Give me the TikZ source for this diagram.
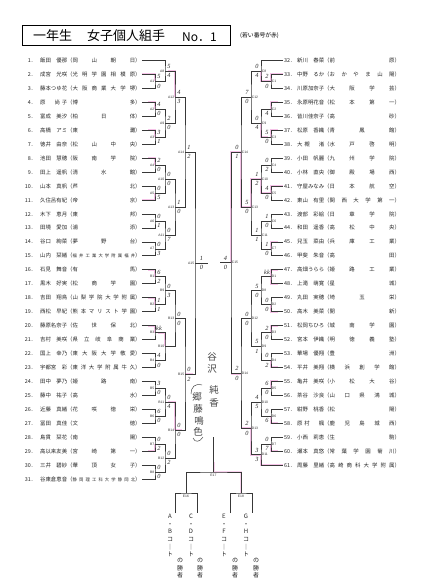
\documentclass[tikz,border=0pt]{standalone}
\usepackage{fontspec}
\usepackage{graphicx}
\newfontfamily\jp{Noto Sans CJK JP}
\newfontfamily\lab{Liberation Sans}
\newfontfamily\hw{Liberation Serif}
\definecolor{ln}{gray}{0.22}
\definecolor{pk}{RGB}{232,110,200}
\usetikzlibrary{calc}
\def\spr#1{\sprB#1\relax}
\def\sprB#1{#1\sprC}
\def\sprC#1{\ifx#1\relax\else\hfil#1\expandafter\sprC\fi}
\newcommand\entL[4]{\makebox[12pt][r]{#1．}\hspace{4pt}\makebox[27pt][s]{\spr{#2}}（\makebox[62.6pt][s]{#4\spr{#3}}）}
\newcommand\entR[4]{\makebox[12pt][l]{#1．}\hspace{1pt}\makebox[27pt][s]{\spr{#2}}（\makebox[65pt][s]{#4\spr{#3}}）}
\newcommand\LP[3]{\node[ent] (p#1) at (23,{Yk(#1-1)}) {\entL{#1}{#2}{#3}{}};}
\newcommand\LPs[3]{\node[ent] (p#1) at (23,{Yk(#1-1)}) {\entL{#1}{#2}{#3}{\fontsize{4.3}{5}\selectfont}};}
\newcommand\RP[3]{\node[ent] (p#1) at (283,{Yk(#1-32)}) {\entR{#1}{#2}{#3}{}};}
\newcommand\RPs[3]{\node[ent] (p#1) at (283,{Yk(#1-32)}) {\entR{#1}{#2}{#3}{\fontsize{4.3}{5}\selectfont}};}
\newcommand\LM[5]{%
  \coordinate (m#1) at (#2,{Yk(#3)});
  \node[lbl,anchor=east] (l#1) at ([xshift=-0.6pt]m#1) {#1};
  \node[sc] (s#1u) at ([xshift=4pt,yshift=4.6pt]m#1) {#4};
  \node[sc] (s#1l) at ([xshift=4pt,yshift=-4.6pt]m#1) {#5};}
\newcommand\RM[5]{%
  \coordinate (m#1) at (#2,{Yk(#3)});
  \node[lbl,anchor=west] (l#1) at ([xshift=0.6pt]m#1) {#1};
  \node[sc] (s#1u) at ([xshift=-4pt,yshift=4.6pt]m#1) {#4};
  \node[sc] (s#1l) at ([xshift=-4pt,yshift=-4.6pt]m#1) {#5};}
\newcommand\BR[3]{\draw[br] (#1) -| (#2) |- (#3);}
\newcommand\HLL[2]{\draw[hl] ($(#2 |- #1)+(-7,0)$) -| (#2);}
\newcommand\HLR[2]{\draw[hl] ($(#2 |- #1)+(7,0)$) -| (#2);}
\begin{document}
\begin{tikzpicture}[x=1pt,y=-1pt,
  declare function={Yk(\k)=60.5+\k*13.95;},
  ent/.style={anchor=west,inner xsep=1pt,inner ysep=0pt,font=\jp\fontsize{5.4}{6}\selectfont,text=black!85},
  lbl/.style={inner sep=0pt,font=\lab\fontsize{3.4}{4}\selectfont,text=black!80},
  sc/.style={inner sep=0pt,font=\hw\itshape\fontsize{6.3}{7}\selectfont,text=black!85},
  br/.style={draw=ln,line width=0.65pt},
  hl/.style={draw=pk,line width=2pt,opacity=0.42},
  vt/.style={inner sep=0pt,align=center,anchor=north,font=\jp\fontsize{6}{7.6}\selectfont,text=black!85},
  hand/.style={inner sep=0pt,font=\jp\fontsize{9.5}{11}\selectfont,text=black!72},
  handline/.style={draw=black!72,line width=0.5pt}]
\useasboundingbox (0,0) rectangle (428,585);
\fill[white] (0,0) rectangle (428,585);
% title
\node[draw=black,line width=1pt,minimum width=208pt,minimum height=20pt,inner sep=0pt] (title) at (126,36) {};
\node[anchor=west,inner sep=0pt,font=\jp\fontsize{13}{14}\selectfont] (t1) at (33,36) {一年生};
\node[anchor=west,inner sep=0pt,font=\jp\fontsize{13}{14}\selectfont] (t2) at (87,36) {女子個人組手};
\node[anchor=west,inner sep=0pt,font=\jp\fontsize{12}{14}\selectfont] (t3) at (182,37) {No．1};
\node[anchor=west,inner sep=0pt,font=\jp\fontsize{5.8}{6}\selectfont] (note) at (240,36) {(若い番号が赤)};
% left list
\LP{1}{飯田　優那}{岡山朝日}
\LP{2}{成宮　光咲}{光明学園相模原}
\LP{3}{藤本つゆ花}{大阪商業大学堺}
\LP{4}{原　尚子}{博多}
\LP{5}{富成　美汐}{柏日体}
\LP{6}{高橋　アミ}{東灘}
\LP{7}{徳井　由奈}{松山中央}
\LP{8}{池田　慧穂}{阪南学院}
\LP{9}{田上　遥帆}{清水館}
\LP{10}{山本　真帆}{芦北}
\LP{11}{久住呂有紀}{帝京}
\LP{12}{木下　恵月}{東邦}
\LP{13}{田境　愛加}{浦添}
\LP{14}{谷口　絢菜}{夢野台}
\LPs{15}{山内　栞緒}{福井工業大学附属福井}
\LP{16}{石見　舞音}{有馬}
\LP{17}{黒木　好実}{松商学園}
\LP{18}{吉田　翔鳥}{山梨学院大学附属}
\LP{19}{西松　早紀}{熊本マリスト学園}
\LP{20}{藤原名奈子}{佐世保北}
\LP{21}{吉村　美咲}{県立岐阜商業}
\LP{22}{国上　幸乃}{東大阪大学敬愛}
\LP{23}{宇都宮　彩}{東洋大学附属牛久}
\LP{24}{田中　夢乃}{姫路南}
\LP{25}{藤中　祐子}{高水}
\LP{26}{近藤　真緒}{花咲徳栄}
\LP{27}{冨田　真佳}{文徳}
\LP{28}{島貫　栞花}{南陽}
\LP{29}{高以来友美}{宮崎第一}
\LP{30}{三井　碧紗}{華頂女子}
\LPs{31}{谷東倉恵音}{静岡理工科大学静岡北}
% right list
\RP{32}{新川　春菜}{前原}
\RP{33}{中野　るか}{おかやま山陽}
\RP{34}{川原加奈子}{大阪学芸}
\RP{35}{永原明花音}{松本第一}
\RP{36}{皆川佳奈子}{高砂}
\RP{37}{松原　香織}{青鳳館}
\RP{38}{大槻　渚}{水戸啓明}
\RP{39}{小田　帆麗}{九州学院}
\RP{40}{小林　直央}{御殿場西}
\RP{41}{守屋みなみ}{日本航空}
\RP{42}{東山　有里}{関西大学第一}
\RP{43}{渡部　彩絵}{日章学院}
\RP{44}{和田　遥香}{高松中央}
\RP{45}{兒玉　菜由}{兵庫工業}
\RP{46}{甲斐　朱音}{高田}
\RP{47}{高畑うらら}{姫路工業}
\RP{48}{上滝　萌寛}{星城}
\RP{49}{丸田　実穂}{埼玉栄}
\RP{50}{高木　美菜}{開新}
\RP{51}{松岡ちひろ}{城南学園}
\RP{52}{宮本　伊織}{明徳義塾}
\RP{53}{華場　優翔}{豊洲}
\RP{54}{平井　美翔}{横浜創学館}
\RP{55}{亀井　美咲}{小松大谷}
\RP{56}{茶谷　沙良}{山口県鴻城}
\RP{57}{紺野　桃香}{松陽}
\RP{58}{原村　楓}{鹿児島城西}
\RP{59}{小西　莉恵}{生駒}
\RP{60}{瀬本　真悠}{常葉学園菊川}
\RP{61}{周藤　里緒}{高崎商科大学附属}
% left matches
\LM{A1}{155}{1.5}{5}{0}
\LM{A2}{155}{3.5}{4}{0}
\LM{A3}{155}{5.5}{3}{1}
\LM{A4}{155}{7.5}{2}{0}
\LM{A5}{155}{9.5}{0}{5}
\LM{A6}{155}{11.5}{0}{1}
\LM{A7}{155}{13.5}{0}{3}
\LM{A8}{165}{0.75}{5}{4}
\LM{A9}{165}{4.5}{2}{0}
\LM{A10}{165}{8.5}{0}{0}
\LM{A11}{165}{12.5}{0}{7}
\LM{A12}{175}{2.625}{4}{3}
\LM{A13}{175}{10.5}{1}{0}
\LM{A14}{185}{6.5625}{1}{2}
\LM{B1}{155}{15.5}{6}{2}
\LM{B2}{155}{17.5}{1}{1}
\LM{B3}{155}{19.5}{kk}{}
\LM{B4}{155}{21.5}{4}{0}
\LM{B5}{155}{23.5}{3}{0}
\LM{B6}{155}{25.5}{6}{0}
\LM{B7}{155}{27.5}{0}{2}
\LM{B8}{155}{29.5}{0}{0}
\LM{B9}{165}{16.5}{0}{3}
\LM{B10}{165}{20.5}{}{}
\LM{B11}{165}{24.5}{0}{4}
\LM{B12}{165}{28.5}{0}{2}
\LM{B13}{175}{18.5}{0}{0}
\LM{B14}{175}{26.5}{0}{0}
\LM{B15}{185}{22.5}{0}{2}
\coordinate (mA15) at (195,{Yk(14.53125)});
\coordinate (oA15) at (208,{Yk(14.53125)});
\node[lbl,anchor=east] (lA15) at ([xshift=-0.6pt]mA15) {A15};
\node[sc] (sA15u) at ([xshift=6.5pt,yshift=4.6pt]mA15) {1};
\node[sc] (sA15l) at ([xshift=6.5pt,yshift=-4.6pt]mA15) {0};
% right matches
\RM{C1}{271}{1.5}{2}{0}
\RM{C2}{271}{3.5}{}{4}
\RM{C3}{271}{5.5}{5}{0}
\RM{C4}{271}{7.5}{0}{2}
\RM{C5}{271}{9.5}{4}{0}
\RM{C6}{271}{11.5}{1}{0}
\RM{C7}{271}{13.5}{1}{0}
\RM{C8}{261}{0.75}{0}{4}
\RM{C9}{261}{4.5}{0}{4}
\RM{C10}{261}{8.5}{1}{2}
\RM{C11}{261}{12.5}{1}{1}
\RM{C12}{251}{2.625}{7}{0}
\RM{C13}{251}{10.5}{5}{0}
\RM{C14}{241}{6.5625}{0}{1}
\RM{D1}{271}{15.5}{kk}{}
\RM{D2}{271}{17.5}{0}{0}
\RM{D3}{271}{19.5}{2}{0}
\RM{D4}{271}{21.5}{0}{2}
\RM{D5}{271}{23.5}{6}{0}
\RM{D6}{271}{25.5}{0}{6}
\RM{D7}{271}{27.5}{0}{7}
\RM{D8}{261}{16.5}{5}{0}
\RM{D9}{261}{20.5}{5}{1}
\RM{D10}{261}{24.5}{4}{5}
\RM{D11}{261}{28.25}{3}{3}
\RM{D12}{251}{18.5}{0}{0}
\RM{D13}{251}{26.375}{2}{0}
\RM{D14}{241}{22.4375}{2}{0}
\coordinate (mC15) at (231,{Yk(14.5)});
\coordinate (oC15) at (220,{Yk(14.5)});
\node[lbl,anchor=west] (lC15) at ([xshift=0.6pt]mC15) {C15};
\node[sc] (sC15u) at ([xshift=-5.5pt,yshift=4.6pt]mC15) {4};
\node[sc] (sC15l) at ([xshift=-5.5pt,yshift=-4.6pt]mC15) {0};
% final section coordinates
\coordinate (topE) at (213.5,437);
\coordinate (mE17) at (213.5,472);
\coordinate (mE16) at (186,493);
\coordinate (mE18) at (241,493);
\coordinate (cAB) at (175,513);
\coordinate (cCD) at (197,513);
\coordinate (cEF) at (230,513);
\coordinate (cGH) at (252,513);
% pink highlighter marks
\draw[hl] (mC14) -| (mC15);
\draw[hl] (mC13) -| (mC14);
\draw[hl] (p41.west) -| (mC5) -| (mC10) -| (mC13);
\draw[hl] (p11.east) -| (mA5);
\draw[hl] (p2.east) -| (mA1);
\draw[hl] (p33.west) -| (mC1) -| (mC8);
\HLL{p4.east}{mA2}
\HLL{p6.east}{mA3}
\HLL{p8.east}{mA4}
\HLL{p16.east}{mB1}
\HLL{p18.east}{mB2}
\HLL{p20.east}{mB3}
\HLL{p29.east}{mB7}
\HLL{mA8}{mA12}
\HLL{mB3}{mB10}
\HLL{mB11}{mB14}
\draw[hl] (mB14) -- ($(mB14)+(7,0)$);
\draw[hl] (mB15) -- ($(mB15)+(8,0)$);
\HLR{p35.west}{mC2}
\HLR{p37.west}{mC3}
\HLR{mC3}{mC9}
\HLR{p45.west}{mC7}
\HLR{p47.west}{mD1}
\HLR{p48.west}{mD1}
\HLR{p50.west}{mD2}
\HLR{p51.west}{mD3}
\HLR{p54.west}{mD4}
\HLR{p55.west}{mD5}
\HLR{p58.west}{mD6}
\HLR{p60.west}{mD7}
\draw[hl] (p61.west) -| (mD11) -| (mD13);
\draw[hl] (mD13) -- ($(mD13)+(-10,0)$);
\draw[hl] (mD14) -- ($(mD14)+(-10,0)$);
\draw[hl,opacity=0.3] ([yshift=10pt]mE17) -- (mE17) -| (mE18);
% left brackets
\BR{p2.east}{mA1}{p3.east}
\BR{p4.east}{mA2}{p5.east}
\BR{p6.east}{mA3}{p7.east}
\BR{p8.east}{mA4}{p9.east}
\BR{p10.east}{mA5}{p11.east}
\BR{p12.east}{mA6}{p13.east}
\BR{p14.east}{mA7}{p15.east}
\BR{p1.east}{mA8}{mA1}
\BR{mA2}{mA9}{mA3}
\BR{mA4}{mA10}{mA5}
\BR{mA6}{mA11}{mA7}
\BR{mA8}{mA12}{mA9}
\BR{mA10}{mA13}{mA11}
\BR{mA12}{mA14}{mA13}
\BR{p16.east}{mB1}{p17.east}
\BR{p18.east}{mB2}{p19.east}
\BR{p20.east}{mB3}{p21.east}
\BR{p22.east}{mB4}{p23.east}
\BR{p24.east}{mB5}{p25.east}
\BR{p26.east}{mB6}{p27.east}
\BR{p28.east}{mB7}{p29.east}
\BR{p30.east}{mB8}{p31.east}
\BR{mB1}{mB9}{mB2}
\BR{mB3}{mB10}{mB4}
\BR{mB5}{mB11}{mB6}
\BR{mB7}{mB12}{mB8}
\BR{mB9}{mB13}{mB10}
\BR{mB11}{mB14}{mB12}
\BR{mB13}{mB15}{mB14}
\BR{mA14}{mA15}{mB15}
\draw[br] (mA15) -- (oA15);
% right brackets
\BR{p33.west}{mC1}{p34.west}
\BR{p35.west}{mC2}{p36.west}
\BR{p37.west}{mC3}{p38.west}
\BR{p39.west}{mC4}{p40.west}
\BR{p41.west}{mC5}{p42.west}
\BR{p43.west}{mC6}{p44.west}
\BR{p45.west}{mC7}{p46.west}
\BR{p32.west}{mC8}{mC1}
\BR{mC2}{mC9}{mC3}
\BR{mC4}{mC10}{mC5}
\BR{mC6}{mC11}{mC7}
\BR{mC8}{mC12}{mC9}
\BR{mC10}{mC13}{mC11}
\BR{mC12}{mC14}{mC13}
\BR{p47.west}{mD1}{p48.west}
\BR{p49.west}{mD2}{p50.west}
\BR{p51.west}{mD3}{p52.west}
\BR{p53.west}{mD4}{p54.west}
\BR{p55.west}{mD5}{p56.west}
\BR{p57.west}{mD6}{p58.west}
\BR{p59.west}{mD7}{p60.west}
\BR{mD1}{mD8}{mD2}
\BR{mD3}{mD9}{mD4}
\BR{mD5}{mD10}{mD6}
\BR{mD7}{mD11}{p61.west}
\BR{mD8}{mD12}{mD9}
\BR{mD10}{mD13}{mD11}
\BR{mD12}{mD14}{mD13}
\BR{mC14}{mC15}{mD14}
\draw[br] (mC15) -- (oC15);
% handwriting
\node[hand] (h1) at (212,357) {谷};
\node[hand] (h2) at (212,369) {沢};
\node[hand] (h3) at (214,390) {純};
\node[hand] (h4) at (214,403) {香};
\node[hand] (h5) at (197,397) {郷};
\node[hand] (h6) at (198,409) {藤};
\node[hand] (h7) at (199,421) {鳴};
\node[hand] (h8) at (198,432) {色};
\coordinate (pa1) at (202,385);
\coordinate (pa2) at (191,394);
\coordinate (pb1) at (193,438);
\coordinate (pb2) at (203,437);
\draw[handline] (pa1) .. controls (195,383) and (191,387) .. (pa2);
\draw[handline] (pb1) .. controls (195,443) and (200,442) .. (pb2);
% final section
\draw[br] (topE) -- (mE17);
\draw[br] (mE16) |- (mE17) -| (mE18);
\draw[br] (cAB) |- (mE16) -| (cCD);
\draw[br] (cEF) |- (mE18) -| (cGH);
\node[lbl,anchor=north] (lE17) at ([yshift=-1.5pt]mE17) {E17};
\node[lbl,anchor=north] (lE16) at ([yshift=-1.5pt]mE16) {E16};
\node[lbl,anchor=north] (lE18) at ([yshift=-1.5pt]mE18) {E18};
\node[vt] (vAB) at (170,514) {A\\・\\B\\コ\\｜\\ト};
\node[vt] (vCD) at (191,514) {C\\・\\D\\コ\\｜\\ト};
\node[vt] (vEF) at (224,514) {E\\・\\F\\コ\\｜\\ト};
\node[vt] (vGH) at (246,514) {G\\・\\H\\コ\\｜\\ト};
\node[vt] (wAB) at (180,558) {の\\勝\\者};
\node[vt] (wCD) at (200,558) {の\\勝\\者};
\node[vt] (wEF) at (235,558) {の\\勝\\者};
\node[vt] (wGH) at (256,558) {の\\勝\\者};
\end{tikzpicture}
\end{document}
